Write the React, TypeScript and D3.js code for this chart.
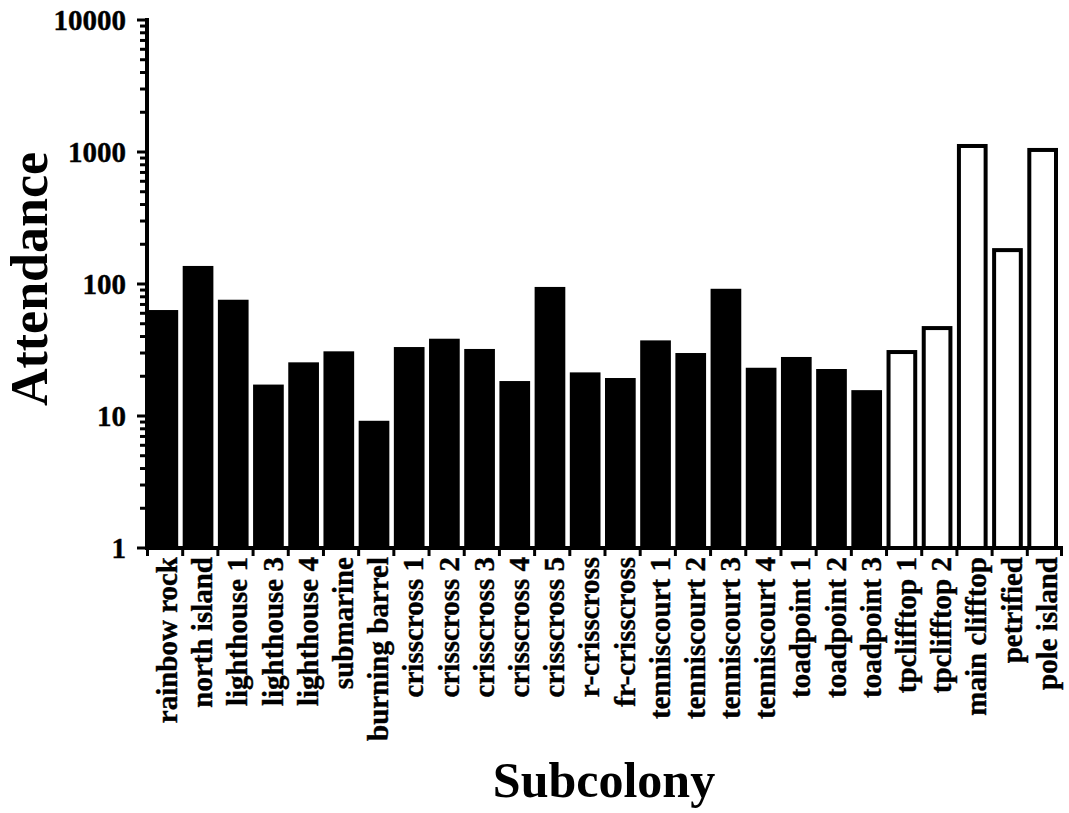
import React from "react";
import * as d3 from "d3";

const categories = [
  "rainbow rock", "north island", "lighthouse 1", "lighthouse 3", "lighthouse 4",
  "submarine", "burning barrel", "crisscross 1", "crisscross 2", "crisscross 3",
  "crisscross 4", "crisscross 5", "r-crisscross", "fr-crisscross", "tenniscourt 1",
  "tenniscourt 2", "tenniscourt 3", "tenniscourt 4", "toadpoint 1", "toadpoint 2",
  "toadpoint 3", "tpclifftop 1", "tpclifftop 2", "main clifftop", "petrified", "pole island",
];
const attendance = [
  63.5, 137, 76, 17.3, 25.5,
  30.9, 9.2, 33.3, 38.5, 32.2,
  18.4, 95, 21.4, 19.4, 37.4,
  30, 92, 23.2, 28, 22.7,
  15.7, 31.6, 48, 1150, 187, 1073,
];
const openBar = [
  false, false, false, false, false, false, false, false, false, false,
  false, false, false, false, false, false, false, false, false, false,
  false, true, true, true, true, true,
];
const yTicks = [1, 10, 100, 1000, 10000];

const W = 1069;
const H = 813;
const left = 147;
const right = 1062;
const top = 20;
const bottom = 548;
const FONT = "'Liberation Serif', 'Times New Roman', serif";

export default function App() {
  const x = d3.scaleBand<string>().domain(categories).range([left, right]).padding(0);
  const y = d3.scaleLog().domain([1, 10000]).range([bottom, top]);
  const step = x.step();
  const minor: number[] = [];
  for (let d = 1; d < 10000; d *= 10) {
    for (let k = 2; k <= 9; k++) minor.push(d * k);
  }
  return (
    <svg width={W} height={H} style={{ position: "absolute", left: 0, top: 0, background: "#fff" }}>
      <rect x={0} y={0} width={W} height={H} fill="#fff" />
      {/* bars */}
      {categories.map((c, i) => {
        const x0 = x(c)! + 0.5;
        const w = step - 4.5;
        const yt = y(attendance[i]);
        if (openBar[i]) {
          return (
            <rect key={c} x={x0 + 2} y={yt + 2} width={w - 4} height={bottom - yt - 2}
              fill="#fff" stroke="#000" strokeWidth={4} />
          );
        }
        return <rect key={c} x={x0} y={yt} width={w} height={bottom - yt} fill="#000" />;
      })}
      {/* y axis */}
      <line x1={left} x2={left} y1={top - 2} y2={bottom + 2} stroke="#000" strokeWidth={4} />
      {yTicks.map((t) => (
        <g key={t}>
          <line x1={left - 10} x2={left} y1={y(t)} y2={y(t)} stroke="#000" strokeWidth={3} />
          <text x={left - 21} y={y(t)} dy="0.35em" textAnchor="end" fontFamily={FONT}
            fontWeight="bold" fontSize={29} stroke="#000" strokeWidth={0.4}>{t}</text>
        </g>
      ))}
      {minor.map((t) => (
        <line key={t} x1={left - 7} x2={left} y1={y(t)} y2={y(t)} stroke="#000" strokeWidth={3} />
      ))}
      {/* x axis */}
      <line x1={left - 2} x2={right + 1} y1={bottom} y2={bottom} stroke="#000" strokeWidth={4} />
      {categories.map((c) => (
        <line key={c} x1={x(c)! + 0.5} x2={x(c)! + 0.5} y1={bottom} y2={bottom + 8} stroke="#000" strokeWidth={3} />
      ))}
      <line x1={right - 0.5} x2={right - 0.5} y1={bottom} y2={bottom + 8} stroke="#000" strokeWidth={3} />
      {categories.map((c) => {
        const cx = x(c)! + 30;
        const cy = 557;
        return (
          <text key={c} transform={`translate(${cx},${cy}) rotate(-90)`} textAnchor="end"
            fontFamily={FONT} fontWeight="bold" fontSize={29} stroke="#000" strokeWidth={0.4}>{c}</text>
        );
      })}
      {/* axis titles */}
      <text transform={`translate(47,279) rotate(-90)`} textAnchor="middle" fontFamily={FONT}
        fontWeight="bold" fontSize={52}>Attendance</text>
      <text x={604} y={797} textAnchor="middle" fontFamily={FONT} fontWeight="bold" fontSize={50}>Subcolony</text>
    </svg>
  );
}
